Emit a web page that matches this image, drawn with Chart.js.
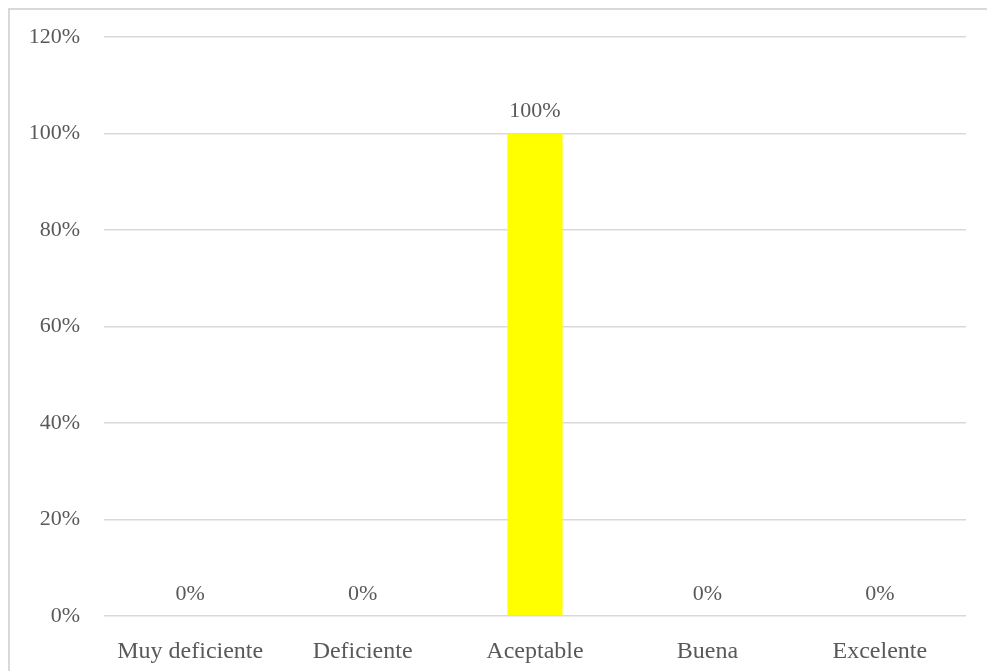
<!DOCTYPE html>
<html>
<head>
<meta charset="utf-8">
<script src="https://cdn.jsdelivr.net/npm/chart.js@4/dist/chart.umd.min.js"></script>
<style>
  html, body { margin: 0; padding: 0; background: #fff; overflow: hidden; }
  #box { position: absolute; left: 8px; top: 8px; width: 1200px; height: 900px; border: 2px solid #d9d9d9; }
  #wrap { position: absolute; left: 0; top: 0; width: 987px; height: 671px; }
</style>
</head>
<body>
<div id="box"></div>
<div id="wrap"><canvas id="graph"></canvas></div>
<script>
var categories = ['Muy deficiente', 'Deficiente', 'Aceptable', 'Buena', 'Excelente'];
var percentages = [0, 0, 100, 0, 0];
var valueLabels = ['0%', '0%', '100%', '0%', '0%'];
var yTickLabels = ['0%', '20%', '40%', '60%', '80%', '100%', '120%'];

var textColor = '#595959';
var family = '"Liberation Serif", "Times New Roman", serif';
var font = { family: family, size: 22 };
var catFont = { family: family, size: 24 };

// draw the value above each bar
var barLabels = {
    id: 'barLabels',
    afterDatasetsDraw: function (chart) {
        var c = chart.ctx;
        var meta = chart.getDatasetMeta(0);
        c.save();
        c.fillStyle = textColor;
        c.font = font.size + 'px ' + font.family;
        c.textAlign = 'center';
        c.textBaseline = 'alphabetic';
        meta.data.forEach(function (bar, i) {
            c.fillText(valueLabels[i], bar.x, bar.y - 16.5);
        });
        c.restore();
    }
};

var ctx = document.getElementById('graph');
var graph = new Chart(ctx, {
    type: 'bar',
    data: {
        labels: categories,
        datasets: [{
            data: percentages,
            backgroundColor: '#ffff00',
            borderWidth: 0,
            barPercentage: 0.32,
            categoryPercentage: 1
        }]
    },
    options: {
        responsive: true,
        maintainAspectRatio: false,
        animation: false,
        layout: { padding: { top: 27, right: 21, left: 0, bottom: 0 } },
        plugins: {
            legend: { display: false },
            tooltip: { enabled: false }
        },
        scales: {
            x: {
                grid: { display: false },
                border: { display: false },
                ticks: { color: textColor, font: catFont, padding: 13, maxRotation: 0 },
                afterFit: function (scale) { scale.height = 55; }
            },
            y: {
                min: 0,
                max: 120,
                grid: { color: '#d9d9d9', lineWidth: 1.5, drawTicks: false },
                border: { display: false },
                ticks: {
                    stepSize: 20,
                    color: textColor,
                    font: font,
                    padding: 24,
                    callback: function (v, i) { return yTickLabels[i]; }
                },
                afterFit: function (scale) { scale.width = 104; }
            }
        }
    },
    plugins: [barLabels]
});
</script>
</body>
</html>
